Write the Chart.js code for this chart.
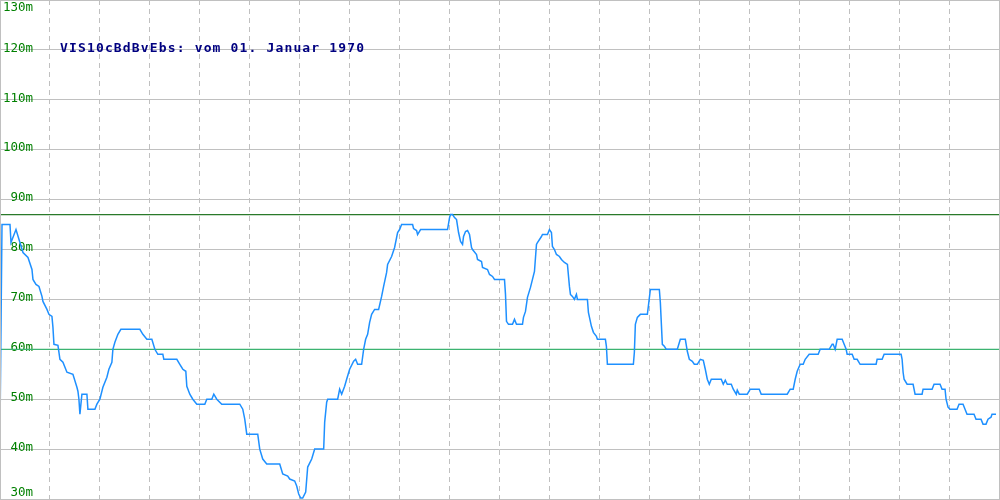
<!DOCTYPE html>
<html>
<head>
<meta charset="utf-8">
<script src="https://cdn.jsdelivr.net/npm/chart.js@4/dist/chart.umd.min.js"></script>
<style>
html,body{margin:0;padding:0;background:#fff;}
#wrap{width:1000px;height:500px;}
</style>
</head>
<body>
<div id="wrap"><canvas id="c" width="1000" height="500"></canvas></div>
<script>
const TITLE = "VIS10cBdBvEbs: vom 01. Januar 1970";
const yTicks = [30,40,50,60,70,80,90,100,110,120,130];
const tickUnit = "m";
const upperRef = 87;
const lowerRef = 60;
const days = [
0,2,10,11,16,23,28,32,33,36,
39,42,43,47,49,52,53,54,58,60,
63,67,73,77,78,79,80,82,87,88,
95,97,100,103,107,109,112,113,115,118,
121,140,143,147,152,155,158,163,164,177,
180,183,186,187,190,193,197,205,207,212,
214,217,222,240,243,245,247,258,260,263,
267,280,283,288,290,295,297,299,301,303,
306,308,312,315,324,325,327,328,338,340,
342,345,347,350,354,356,358,362,364,366,
368,370,372,375,379,382,384,387,388,392,
395,398,400,402,413,414,417,418,421,448,
450,451,453,455,457,459,461,463,464,466,
468,470,472,473,477,478,482,483,488,490,
493,495,505,506,507,509,513,515,517,523,
524,526,528,531,533,535,537,538,542,543,
548,550,552,553,555,557,560,562,565,568,
570,571,573,575,577,578,588,589,592,594,
597,598,606,607,608,634,635,636,638,641,
648,649,651,660,661,663,665,667,678,681,
686,688,690,693,695,698,701,704,706,708,
710,712,722,724,726,728,732,734,737,738,
740,748,751,760,762,788,791,794,796,798,
801,804,806,810,819,821,830,833,834,836,
838,843,845,847,848,853,855,858,861,877,
878,883,885,902,903,904,905,908,914,916,
923,924,933,935,941,943,946,947,949,951,
958,960,964,966,968,975,977,982,984,987,
989,992,993,997
];
const level = [
44,85,85,81.4,84,79.4,78.4,76,74,73,
72.6,70.6,69.6,68,67,66.6,64.4,61,60.8,58,
57.4,55.4,55,52.4,51.6,50,47,51,51,48,
48,49,50,52.4,54.4,56,57.4,60,61.4,63,
64,64,63,62,62,60,59,59,58,58,
57,56,55.6,52.6,51,50,49,49,50,50,
51,50,49,49,48,46,43,43,40,38,
37,37,35,34.6,34,33.6,32.6,31,30.2,30.2,
31.4,36.4,38,40,40,45.4,49.4,50,50,52,
51,52.6,54,56,57.6,58,57,57,60,62,
63,65.4,67,68,68,70.6,72.6,75.4,77,78.6,
80.4,83.4,84,85,85,84.2,83.8,83,84,84,
86.4,87,87,86.4,86,83.4,81.6,81,82.6,83.6,
83.8,83,80.4,80,79,78,77.6,76.4,76,75,
74.6,74,74,71,65.6,65,65,66,65,65,
66.4,67.6,70.4,72.4,74,75.6,81,81.4,82.6,83,
83,84,83.4,80.6,80,79,78.6,78,77.4,77,
72.6,71,70.6,70,71,70,70,67.4,64.6,63.4,
62.6,62,62,60.6,57,57,59.4,65,66.4,67,
67,68.6,72,72,69.4,61,60.6,60,60,62,
62,59.6,58,57.6,57,57,58,57.8,56,54,
53,54,54,53,53.8,53,53,52,51,51.8,
51,51,52,52,51,51,52,52,54,55.6,
57,57,58,59,59,60,60,61,61,60,
62,62,61,60,59,59,58,58,57,57,
58,58,59,59,58,55.4,54,53,53,51,
51,52,52,53,53,52,52,50,48.4,48,
48,49,49,48,47,47,46,46,45,45,
46,46.4,47,47
];
const X_MIN = 0, X_MAX = 1000;

const decor = {
  id: 'decor',
  beforeDatasetsDraw(chart) {
    const ctx = chart.ctx;
    const ys = chart.scales.y;
    ctx.save();
    ctx.font = '12.5px "DejaVu Sans Mono"';
    ctx.fillStyle = '#008000';
    ctx.textAlign = 'right';
    ctx.textBaseline = 'middle';
    yTicks.forEach(v => {
      let py = ys.getPixelForValue(v) - 1.5;
      py = Math.max(8, Math.min(493, py));
      ctx.fillText(v + tickUnit, 33, py);
    });
    ctx.restore();
  },
  afterDraw(chart) {
    const ctx = chart.ctx;
    ctx.save();
    ctx.strokeStyle = '#c0c0c0';
    ctx.lineWidth = 1;
    ctx.strokeRect(0.5, 0.5, chart.width - 1, chart.height - 1);
    ctx.font = 'bold 13px "DejaVu Sans Mono"';
    ctx.letterSpacing = '1.15px';
    ctx.fillStyle = '#000080';
    ctx.textAlign = 'left';
    ctx.textBaseline = 'alphabetic';
    ctx.fillText(TITLE, 60, 52);
    ctx.restore();
  }
};

new Chart(document.getElementById('c'), {
  type: 'line',
  data: {
    datasets: [
      {
        data: days.map((d, i) => ({x: d, y: level[i]})),
        borderColor: '#1e90ff',
        borderWidth: 1.5,
        pointRadius: 0,
        tension: 0,
        fill: false,
        order: 0
      },
      {
        data: [{x: X_MIN, y: upperRef}, {x: X_MAX, y: upperRef}],
        borderColor: '#2a7a2a',
        borderWidth: 1.2,
        pointRadius: 0,
        order: 2
      },
      {
        data: [{x: X_MIN, y: lowerRef}, {x: X_MAX, y: lowerRef}],
        borderColor: '#3cb371',
        borderWidth: 1.2,
        pointRadius: 0,
        order: 2
      }
    ]
  },
  options: {
    responsive: false,
    animation: false,
    devicePixelRatio: 1,
    layout: {padding: {left: 0, top: 0, right: 1, bottom: 1}},
    plugins: {legend: {display: false}, tooltip: {enabled: false}},
    scales: {
      x: {
        type: 'linear',
        min: X_MIN, max: X_MAX,
        ticks: {display: false, stepSize: 50},
        grid: {color: '#c0c0c0', drawTicks: false, lineWidth: 1},
        border: {display: false, dash: [5, 4]},
        afterFit(s) { s.height = 0; }
      },
      y: {
        min: 30, max: 130,
        ticks: {display: false, stepSize: 10},
        grid: {color: '#c0c0c0', drawTicks: false, lineWidth: 1},
        border: {display: false},
        afterFit(s) { s.width = 0; }
      }
    }
  },
  plugins: [decor]
});
</script>
</body>
</html>
